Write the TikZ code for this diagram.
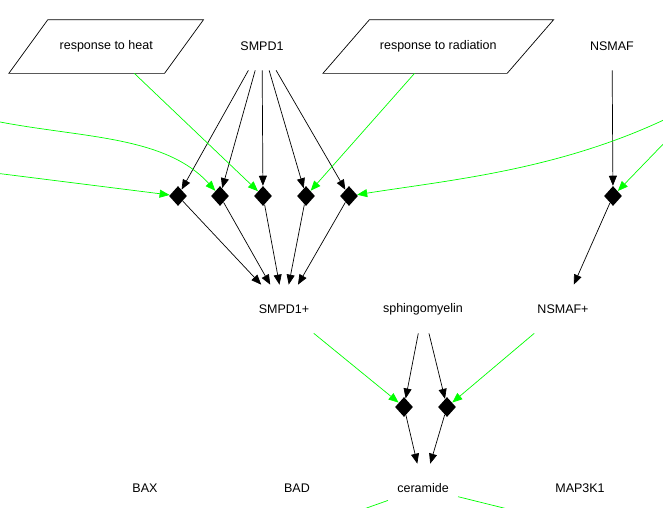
\documentclass[tikz,border=0pt]{standalone}
\usepackage{fontspec}
\setmainfont{Liberation Sans}
\usetikzlibrary{shapes.geometric,arrows.meta}

\begin{document}
\begin{tikzpicture}[x=1pt, y=-1pt, line width=0.7pt, font=\fontsize{12.5}{15}\selectfont,
   lbl/.style={minimum height=48pt, inner ysep=0pt, inner xsep=9pt},
   para/.style={minimum height=53pt, inner sep=0pt},
   proc/.style={diamond, fill=black, minimum width=18pt, minimum height=20pt, inner sep=0pt},
   conv/.style={-{Triangle[length=10pt,width=8pt]}},
   act/.style={conv, green}]
   \useasboundingbox (0,0) rectangle (663,507);
   \clip (0,0) rectangle (663,507);

   \node[para, minimum width=194pt] (heat) at (106.2,46.5) {response to heat};
   \draw ([xshift=39pt]heat.north west) -- (heat.north east)
      -- ([xshift=-39pt]heat.south east) -- (heat.south west) -- cycle;
   \node[lbl] (smpd1) at (262,46) {SMPD1};
   \node[para, minimum width=230pt] (radiation) at (438.3,46.5) {response to radiation};
   \draw ([xshift=46.5pt]radiation.north west) -- (radiation.north east)
      -- ([xshift=-46.5pt]radiation.south east) -- (radiation.south west) -- cycle;
   \node[lbl] (nsmaf) at (612,46) {NSMAF};

   \foreach \x [count=\i] in {178,220,263,306,349}
      \node[proc] (d\i) at (\x,196) {};
   \node[proc] (d6) at (613,196) {};

   \node[lbl] (smpd1p) at (284,309) {SMPD1+};
   \node[lbl] (sphingo) at (423,309) {sphingomyelin};
   \node[lbl] (nsmafp) at (563,309) {NSMAF+};
   \node[proc] (d7) at (404,407) {};
   \node[proc] (d8) at (447,407) {};

   \node[lbl] (bax) at (145,488) {BAX};
   \node[lbl] (bad) at (297,488) {BAD};
   \node[lbl] (ceramide) at (423,488) {ceramide};
   \node[lbl] (map3k1) at (580,488) {MAP3K1};

   % ends outside the frame
   \coordinate (lfA) at (-5,121);
   \coordinate (lfB) at (-5,173);
   \coordinate (rtA) at (670,117);
   \coordinate (rtB) at (670,137);
   \coordinate (cl) at (330,521);
   \coordinate (cr) at (540,517);

   \foreach \i in {1,...,5} {
      \draw[conv] (smpd1) -- (d\i);
      \draw[conv] (d\i) -- (smpd1p);
   }
   \draw[conv] (nsmaf) -- (d6);
   \draw[conv] (d6) -- (nsmafp);
   \draw[conv] (sphingo) -- (d7);
   \draw[conv] (sphingo) -- (d8);
   \draw[conv] (d7) -- (ceramide);
   \draw[conv] (d8) -- (ceramide);

   \draw[act] (lfA) .. controls (80,138) and (165,135) .. (d2);
   \draw[act] (lfB) -- (d1);
   \draw[act] (heat) -- (d3);
   \draw[act] (radiation) -- (d4);
   \draw[act] (rtA) .. controls (560,170) and (450,180) .. (d5);
   \draw[act] (rtB) -- (d6);
   \draw[act] (smpd1p) -- (d7);
   \draw[act] (nsmafp) -- (d8);
   \draw[act] (ceramide) -- (cl);
   \draw[act] (ceramide) -- (cr);
\end{tikzpicture}
\end{document}
